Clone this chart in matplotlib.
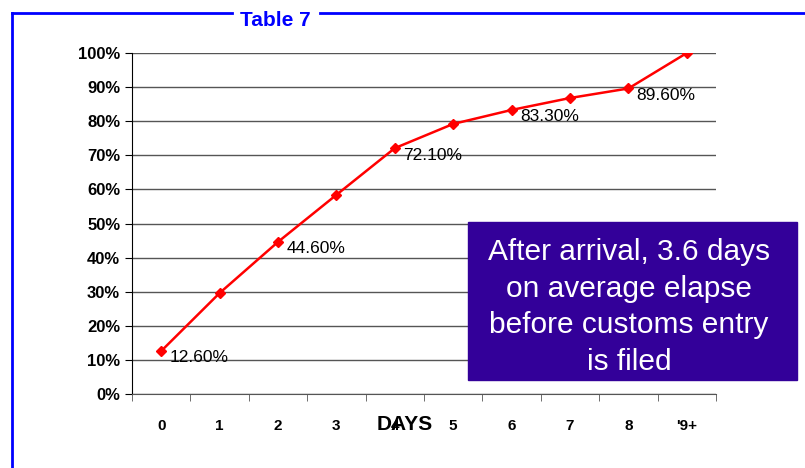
import matplotlib
matplotlib.use('Agg')
import matplotlib.pyplot as plt
from matplotlib.lines import Line2D
from matplotlib.ticker import PercentFormatter

plt.rcParams['font.family'] = ['Liberation Sans', 'DejaVu Sans']

days = ['0', '1', '2', '3', '4', '5', '6', '7', '8', "'9+"]
cumulative = [12.6, 29.6, 44.6, 58.4, 72.1, 79.2, 83.3, 86.8, 89.6, 100.0]
labelled = [0, 2, 4, 6, 8]

f = plt.figure(figsize=(8.05, 4.68), dpi=100)
ax = f.add_axes([132 / 805, 74 / 468, 584 / 805, 341 / 468])

x = list(range(len(days)))
ax.plot(x, cumulative, color='red', lw=1.8, marker='D', ms=5)
for i in labelled:
    ax.annotate('%.2f%%' % cumulative[i], (x[i], cumulative[i]),
                xytext=(6, -5), textcoords='offset points',
                ha='left', va='center', fontsize=12.5)

ax.set_xlim(-0.5, len(days) - 0.5)
ax.set_ylim(0, 100)
ax.set_yticks(range(0, 101, 10))
ax.yaxis.set_major_formatter(PercentFormatter(decimals=0))
ax.set_xticks(x)
ax.set_xticklabels(days)
ax.set_xticks([i - 0.5 for i in range(len(days) + 1)], minor=True)
ax.tick_params(axis='x', which='major', length=0, pad=18)
ax.tick_params(axis='x', which='minor', length=5, direction='out', color='#555555')
ax.tick_params(axis='y', length=5, direction='out')
for lab in ax.get_yticklabels():
    lab.set_fontweight('bold')
    lab.set_fontsize(12)
for lab in ax.get_xticklabels():
    lab.set_fontweight('bold')
    lab.set_fontsize(11)
ax.grid(axis='y', color='#555555', lw=1)
ax.set_axisbelow(True)
for s in ['top', 'right']:
    ax.spines[s].set_visible(False)
ax.spines['bottom'].set_color('#555555')
ax.spines['left'].set_color('black')

ax.text(4.17, -9.0, 'DAYS', transform=ax.transData, ha='center', va='center',
        fontsize=15, fontweight='bold')

# frame around chart
f.add_artist(Line2D([12 / 805, 12 / 805], [0, 1 - 13 / 468], color='blue', lw=2))
f.add_artist(Line2D([12 / 805, 232 / 805], [1 - 13 / 468] * 2, color='blue', lw=2))
f.add_artist(Line2D([320 / 805, 1], [1 - 13 / 468] * 2, color='blue', lw=2))
f.text(275 / 805, 1 - 20 / 468, 'Table 7', color='blue', fontsize=15,
       fontweight='bold', ha='center', va='center')

# callout box
f.patches.append(matplotlib.patches.Rectangle((468 / 805, 1 - 380 / 468), 329 / 805, 158 / 468,
                                              transform=f.transFigure, color='#330099', zorder=5))
f.text(629 / 805, 1 - 307 / 468,
       'After arrival, 3.6 days\non average elapse\nbefore customs entry\nis filed',
       color='white', fontsize=21.5, ha='center', va='center', linespacing=1.38, zorder=6)

f.savefig('out.png', dpi=100)
